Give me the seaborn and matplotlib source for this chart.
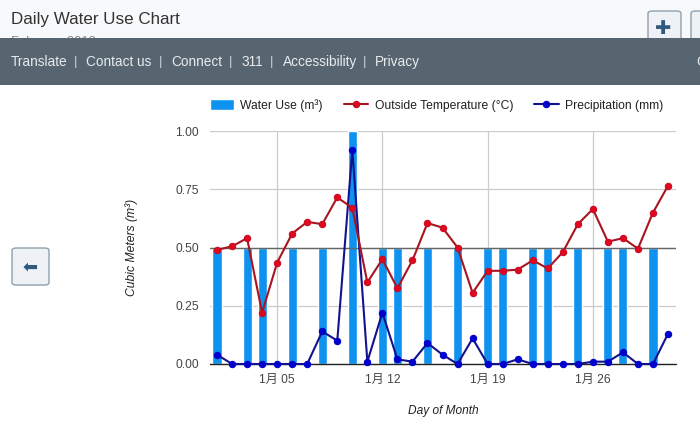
import matplotlib
matplotlib.use("Agg")
import matplotlib.pyplot as plt
from matplotlib.patches import Rectangle, FancyBboxPatch
import pandas as pd
import seaborn as sns

days = list(range(1, 32))
water_use = [0.5, 0, 0.5, 0.5, 0, 0.5, 0, 0.5, 0, 1.0, 0, 0.5, 0.5, 0, 0.5, 0,
             0.5, 0, 0.5, 0.5, 0, 0.5, 0.5, 0, 0.5, 0, 0.5, 0.5, 0, 0.5, 0]
temperature = [0.49, 0.505, 0.54, 0.22, 0.435, 0.56, 0.61, 0.60, 0.715, 0.67, 0.35,
               0.45, 0.325, 0.445, 0.605, 0.585, 0.50, 0.305, 0.40, 0.40, 0.405,
               0.445, 0.41, 0.48, 0.60, 0.665, 0.525, 0.54, 0.495, 0.65, 0.765]
precipitation = [0.04, 0, 0, 0, 0, 0, 0, 0.14, 0.10, 0.92, 0.01, 0.22, 0.02, 0.01,
                 0.09, 0.04, 0, 0.11, 0, 0, 0.02, 0, 0, 0, 0, 0.01, 0.01, 0.05, 0, 0, 0.13]
x_ticks = [5, 12, 19, 26]
x_tick_labels = ["1月 05", "1月 12", "1月 19", "1月 26"]
y_ticks = [0, 0.25, 0.5, 0.75, 1.0]
y_tick_labels = ["0.00", "0.25", "0.50", "0.75", "1.00"]
nav_labels = ["Translate", "Contact us", "Connect", "311", "Accessibility", "Privacy"]
nav_x = [11, 86, 171, 241, 283, 375]
nav_sep_x = [76, 161, 231, 272, 365]

sns.set_theme(style="white")
plt.rcParams["font.family"] = ["Liberation Sans", "Noto Sans CJK SC", "DejaVu Sans"]

W, H = 700, 425
df = pd.DataFrame({"day": days, "water": water_use, "temp": temperature, "rain": precipitation})

fig = plt.figure(figsize=(7, 4.25), dpi=100, facecolor="white")
ax = fig.add_axes([210 / W, 1 - 364 / H, 466 / W, 233 / H])
ax.set_facecolor("none")

sns.barplot(data=df, x="day", y="water", native_scale=True, width=0.6, color="#0d92f0",
            saturation=1, label="Water Use (m³)", ax=ax, zorder=2)
sns.lineplot(data=df, x="day", y="rain", color="#12128c", lw=1.5, marker="o", ms=4.6,
             mfc="#0000cc", mec="#0000cc", label="Precipitation (mm)", ax=ax, zorder=4,
             clip_on=False)
sns.lineplot(data=df, x="day", y="temp", color="#a8141f", lw=1.5, marker="o", ms=4.6,
             mfc="#e0081f", mec="#c80a20", label="Outside Temperature (°C)", ax=ax, zorder=5,
             clip_on=False)

ax.set_xlim(0.534, 31.53)
ax.set_ylim(0, 1)
ax.set_xticks(x_ticks, x_tick_labels)
ax.set_yticks(y_ticks, y_tick_labels)
ax.tick_params(axis="both", length=0, labelsize=8.64, labelcolor="#444444", pad=8)
ax.tick_params(axis="x", pad=7.5)
ax.set_axisbelow(True)
ax.grid(True, color="#cccccc", lw=0.9)
for s in ax.spines.values():
    s.set_visible(False)
ax.axhline(0.5, color="#666666", lw=1.0, zorder=3)
ax.axhline(0, color="#222222", lw=1.0, zorder=3, clip_on=False)
ax.set_xlabel("")
ax.set_ylabel("")

h, l = ax.get_legend_handles_labels()
order = [l.index("Water Use (m³)"), l.index("Outside Temperature (°C)"), l.index("Precipitation (mm)")]
leg = ax.legend([h[i] for i in order], [l[i] for i in order], ncol=3, frameon=False,
                loc="center left", bbox_to_anchor=(0, 1.11), borderaxespad=0, borderpad=0,
                fontsize=8.75, handlelength=2.0, handleheight=0.95, handletextpad=0.5,
                columnspacing=1.75, labelcolor="#222222")

fig.text(132 / W, 1 - 247 / H, "Cubic Meters (m³)", rotation=90, style="italic", fontsize=8.7,
         color="#222222", ha="center", va="center")
fig.text(443 / W, 1 - 411 / H, "Day of Month", style="italic", fontsize=8.6,
         color="#222222", ha="center", va="center")

# page chrome
fig.patches.append(Rectangle((0, 1 - 38 / H), 1, 38 / H, transform=fig.transFigure,
                             fc="#f8f9fb", ec="none", zorder=-5))
fig.text(11 / W, 1 - 19.5 / H, "Daily Water Use Chart", fontsize=12.25, color="#333333",
         va="center", zorder=1)
fig.text(11 / W, 1 - 42.5 / H, "February 2013", fontsize=9.4, color="#888888", va="center", zorder=1)


def button(x, y, w, h_, zorder=2):
    fig.patches.append(FancyBboxPatch((x / W, 1 - (y + h_) / H), w / W, h_ / H,
                                      boxstyle="round,pad=0,rounding_size=0.006",
                                      transform=fig.transFigure, fc="#eef2f6", ec="#8fa0ac",
                                      lw=1.0, zorder=zorder))


button(648, 11, 33, 34)
button(691, 11, 30, 34)
fig.text(663.5 / W, 1 - 29 / H, "✚", fontsize=14, color="#2f5a7d", ha="center", va="center",
         family="DejaVu Sans", zorder=3)
button(12, 248, 37, 37)
fig.text(30 / W, 1 - 267 / H, "⬅", fontsize=13, color="#2f5a7d", ha="center",
         va="center", family="DejaVu Sans")

band = Rectangle((0, 1 - 85 / H), 1, 47 / H, transform=fig.transFigure, fc="#56656f", ec="none", zorder=6)
fig.patches.append(band)
for label, x in zip(nav_labels, nav_x):
    fig.text(x / W, 1 - 62 / H, label, fontsize=9.85, color="#e8ecef", va="center", zorder=7)
for x in nav_sep_x:
    fig.text(x / W, 1 - 61.5 / H, "|", fontsize=9.5, color="#c5ced3", va="center", ha="center", zorder=7)
fig.text(696 / W, 1 - 62 / H, "C", fontsize=9.85, color="#e8ecef", va="center", zorder=7)

fig.savefig("out.png", dpi=100)
